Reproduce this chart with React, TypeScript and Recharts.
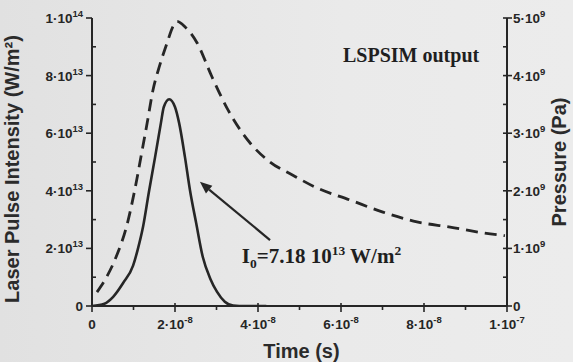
import React from 'react';
import { ComposedChart, Line, XAxis, YAxis, ReferenceDot, ReferenceLine } from 'recharts';

// time in units of 1e-8 s, intensity in 1e13 W/m2, pressure in 1e9 Pa
const pulseTime = [0, 0.3, 0.51, 0.75, 0.99, 1.1, 1.23, 1.37, 1.52, 1.66, 1.73, 1.86, 2.0, 2.1, 2.24, 2.36, 2.51, 2.67, 2.85, 3.01, 3.2, 3.4, 3.7, 4.2];
const pulseIntensity = [0, 0.08, 0.32, 0.8, 1.4, 1.95, 2.75, 3.95, 5.17, 6.35, 6.91, 7.18, 6.91, 6.35, 5.17, 4.03, 2.88, 1.7, 0.95, 0.5, 0.15, 0.02, 0, 0];

const pressureTime = [0.12, 0.35, 0.58, 0.84, 1.04, 1.18, 1.33, 1.47, 1.62, 1.81, 1.95, 2.05, 2.25, 2.53, 2.89, 3.28, 3.81, 4.29, 4.84, 5.42, 6.22, 7.01, 7.83, 8.63, 9.42, 9.95];
const pressureValue = [0.24, 0.5, 0.85, 1.4, 2.05, 2.59, 3.18, 3.75, 4.15, 4.57, 4.85, 4.94, 4.84, 4.57, 3.98, 3.4, 2.83, 2.5, 2.27, 2.05, 1.84, 1.63, 1.46, 1.37, 1.27, 1.22];

const timeTicks = [0, 1, 2, 3, 4, 5, 6, 7, 8, 9, 10];
const timeMajor = [0, 2, 4, 6, 8, 10];
const timeBase = ['0', '2·10', '4·10', '6·10', '8·10', '1·10'];
const timeExp = ['', '-8', '-8', '-8', '-8', '-7'];

const intensityTicks = [0, 1, 2, 3, 4, 5, 6, 7, 8, 9, 10];
const intensityMajor = [0, 2, 4, 6, 8, 10];
const intensityBase = ['0', '2·10', '4·10', '6·10', '8·10', '1·10'];
const intensityExp = ['', '13', '13', '13', '13', '14'];

const pressureTicks = [0, 0.5, 1, 1.5, 2, 2.5, 3, 3.5, 4, 4.5, 5];
const pressureMajor = [0, 1, 2, 3, 4, 5];
const pressureBase = ['0', '1·10', '2·10', '3·10', '4·10', '5·10'];
const pressureExp = ['', '9', '9', '9', '9', '9'];

// annotation anchors (data units)
const titleAnchor = { x: 9.33, y: 8.47 };
const i0Anchor = { x: 3.61, y: 1.49 };
const arrowTail = { x: 4.29, y: 2.29 };
const arrowHead = { x: 2.6, y: 4.31 };

const pulseData = pulseTime.map((t, i) => ({ t, v: pulseIntensity[i] }));
const pressureData = pressureTime.map((t, i) => ({ t, v: pressureValue[i] }));

const INK = '#262626';
const SANS = "'Liberation Sans', Arial, sans-serif";
const SERIF = "'Liberation Serif', 'Times New Roman', serif";

const TickLabel = ({ x, y, base, exp, anchor }: any) => (
  <text x={x} y={y} textAnchor={anchor} fontFamily={SANS} fontSize={13.5} fontWeight="bold" fill="#262626">
    {base}
    {exp ? <tspan dy={-6} fontSize={9.5}>{exp}</tspan> : null}
  </text>
);

const BottomTick = (props: any) => {
  const { x, y, payload } = props;
  const i = timeMajor.indexOf(payload.value);
  const major = i >= 0;
  return (
    <g>
      <line x1={x} x2={x} y1={y - (major ? 3 : 0)} y2={y + (major ? 6 : 4)} stroke={INK} strokeWidth={1.6} />
      {major && <TickLabel x={x} y={y + 23} base={timeBase[i]} exp={timeExp[i]} anchor="middle" />}
    </g>
  );
};

const TopTick = (props: any) => {
  const { x, y } = props;
  return <line x1={x} x2={x} y1={y} y2={y + 5} stroke={INK} strokeWidth={1.6} />;
};

const LeftTick = (props: any) => {
  const { x, y, payload } = props;
  const i = intensityMajor.indexOf(payload.value);
  if (i < 0) return <line x1={x} x2={x + 4} y1={y} y2={y} stroke={INK} strokeWidth={1.6} />;
  return (
    <g>
      <line x1={x - 6} x2={x} y1={y} y2={y} stroke={INK} strokeWidth={1.6} />
      <TickLabel x={x - 9} y={y + 5} base={intensityBase[i]} exp={intensityExp[i]} anchor="end" />
    </g>
  );
};

const RightTick = (props: any) => {
  const { x, y, payload } = props;
  const i = pressureMajor.indexOf(payload.value);
  if (i < 0) return <line x1={x - 4} x2={x} y1={y} y2={y} stroke={INK} strokeWidth={1.6} />;
  return (
    <g>
      <line x1={x - 4} x2={x + 5} y1={y} y2={y} stroke={INK} strokeWidth={1.6} />
      <TickLabel x={x + 6} y={y + 5} base={pressureBase[i]} exp={pressureExp[i]} anchor="start" />
    </g>
  );
};

const titleStyle = { fontFamily: SANS, fontSize: 20, fontWeight: 'bold' as const, fill: '#2b2b2b' };

const LeftTitle = (p: any) => {
  const vb = p.viewBox;
  const cx = vb.x - 13;
  const cy = vb.y + vb.height / 2 + 7;
  return (
    <text x={cx} y={cy} transform={`rotate(-90 ${cx} ${cy})`} textAnchor="middle" {...titleStyle}>
      Laser Pulse Intensity (W/m²)
    </text>
  );
};

const RightTitle = (p: any) => {
  const vb = p.viewBox;
  const cx = vb.x + vb.width + 9;
  const cy = vb.y + vb.height / 2;
  return (
    <text x={cx} y={cy} transform={`rotate(-90 ${cx} ${cy})`} textAnchor="middle" {...titleStyle}>
      Pressure (Pa)
    </text>
  );
};

const BottomTitle = (p: any) => {
  const vb = p.viewBox;
  return (
    <text x={vb.x + vb.width / 2 + 2} y={vb.y + 52} textAnchor="middle" {...titleStyle}>
      Time (s)
    </text>
  );
};

const ArrowShape = (p: any) => {
  const { x1, y1, x2, y2 } = p;
  const dx = x2 - x1;
  const dy = y2 - y1;
  const len = Math.sqrt(dx * dx + dy * dy) || 1;
  const ux = dx / len;
  const uy = dy / len;
  const hl = 12;
  const hw = 5;
  const bx = x2 - ux * hl;
  const by = y2 - uy * hl;
  return (
    <g>
      <line x1={x1} y1={y1} x2={bx} y2={by} stroke={INK} strokeWidth={2.2} />
      <polygon
        points={`${x2},${y2} ${bx - uy * hw},${by + ux * hw} ${bx + uy * hw},${by - ux * hw}`}
        fill={INK}
      />
    </g>
  );
};

const TitleText = (p: any) => (
  <text x={p.cx} y={p.cy} textAnchor="end" fontFamily={SERIF} fontSize={20} fontWeight="bold" fill="#1f1f1f">
    LSPSIM output
  </text>
);

const I0Text = (p: any) => (
  <text x={p.cx} y={p.cy} fontFamily={SERIF} fontSize={21} fontWeight="bold" fill="#1f1f1f">
    I<tspan dy={5} fontSize={13.5}>0</tspan>
    <tspan dy={-5}>=7.18 10</tspan>
    <tspan dy={-8} fontSize={13.5}>13</tspan>
    <tspan dy={8}>{' W/m'}</tspan>
    <tspan dy={-8} fontSize={13.5}>2</tspan>
  </text>
);

const axisLine = { stroke: INK, strokeWidth: 2 };

export default function App() {
  return (
    <div
      style={{
        position: 'absolute',
        left: 0,
        top: 0,
        width: 573,
        height: 362,
        background: 'linear-gradient(90deg, #e1e1e1 0%, #eaeaea 60%, #ececec 100%)',
      }}
    >
      <ComposedChart width={573} height={362} margin={{ top: 18, right: 16, bottom: 0, left: 32 }}>
        <XAxis
          xAxisId="bottom"
          dataKey="t"
          type="number"
          domain={[0, 10]}
          ticks={timeTicks}
          interval={0}
          allowDataOverflow
          height={56}
          tickSize={0}
          tickMargin={0}
          tickLine={false}
          tick={BottomTick}
          axisLine={axisLine}
          label={BottomTitle}
        />
        <XAxis
          xAxisId="top"
          orientation="top"
          dataKey="t"
          type="number"
          domain={[0, 10]}
          ticks={timeTicks}
          interval={0}
          allowDataOverflow
          height={0}
          tickSize={0}
          tickMargin={0}
          tickLine={false}
          tick={TopTick}
          axisLine={axisLine}
        />
        <YAxis
          yAxisId="left"
          type="number"
          domain={[0, 10]}
          ticks={intensityTicks}
          interval={0}
          allowDataOverflow
          width={60}
          tickSize={0}
          tickMargin={0}
          tickLine={false}
          tick={LeftTick}
          axisLine={axisLine}
          label={LeftTitle}
        />
        <YAxis
          yAxisId="right"
          orientation="right"
          type="number"
          domain={[0, 5]}
          ticks={pressureTicks}
          interval={0}
          allowDataOverflow
          width={50}
          tickSize={0}
          tickMargin={0}
          tickLine={false}
          tick={RightTick}
          axisLine={axisLine}
          label={RightTitle}
        />
        <Line
          data={pressureData}
          dataKey="v"
          xAxisId="bottom"
          yAxisId="right"
          type="monotone"
          stroke={INK}
          strokeWidth={2.8}
          strokeDasharray="12 7"
          dot={false}
          activeDot={false}
          isAnimationActive={false}
        />
        <Line
          data={pulseData}
          dataKey="v"
          xAxisId="bottom"
          yAxisId="left"
          type="monotone"
          stroke={INK}
          strokeWidth={2.6}
          dot={false}
          activeDot={false}
          isAnimationActive={false}
        />
        <ReferenceLine
          xAxisId="bottom"
          yAxisId="left"
          segment={[arrowTail, arrowHead]}
          shape={ArrowShape}
        />
        <ReferenceDot xAxisId="bottom" yAxisId="left" x={titleAnchor.x} y={titleAnchor.y} r={0} shape={TitleText} />
        <ReferenceDot xAxisId="bottom" yAxisId="left" x={i0Anchor.x} y={i0Anchor.y} r={0} shape={I0Text} />
      </ComposedChart>
    </div>
  );
}
